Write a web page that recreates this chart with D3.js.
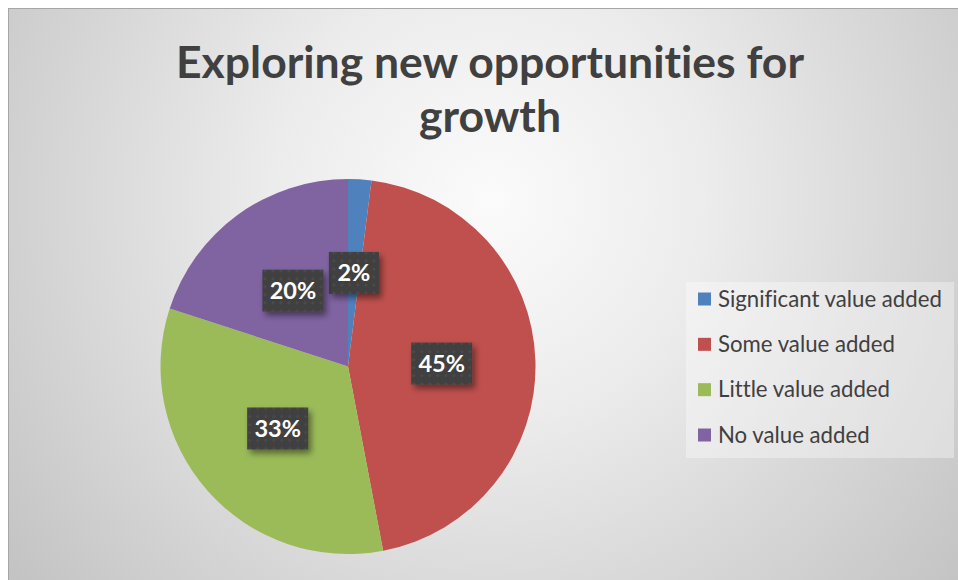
<!DOCTYPE html>
<html>
<head>
<meta charset="utf-8">
<script src="https://cdn.jsdelivr.net/npm/d3@7"></script>
<style>
  html, body { margin: 0; padding: 0; background: #ffffff; }
  svg { display: block; }
  text { font-variant-ligatures: none; font-feature-settings: "liga" 0, "clig" 0; }
</style>
</head>
<body>
<svg id="chart" width="958" height="580"></svg>
<script>
// Survey answers: share of respondents per category
const categories = ["Significant value added", "Some value added", "Little value added", "No value added"];
const values = [2, 45, 33, 20];
const colors = ["#4f81bd", "#c0504d", "#9bbb59", "#8064a2"];
const titleLines = ["Exploring new opportunities for", "growth"];

const W = 958, H = 580;
const svg = d3.select("#chart");
const defs = svg.append("defs");

// Radial background fill of the chart area
const bg = defs.append("radialGradient").attr("id", "bgGrad")
  .attr("gradientUnits", "userSpaceOnUse")
  .attr("cx", 490).attr("cy", 200).attr("r", 620);
bg.append("stop").attr("offset", "0%").attr("stop-color", "#fbfbfb");
bg.append("stop").attr("offset", "35%").attr("stop-color", "#ececec");
bg.append("stop").attr("offset", "100%").attr("stop-color", "#c2c2c2");

// Dotted texture for the value labels
const pat = defs.append("pattern").attr("id", "dots")
  .attr("patternUnits", "userSpaceOnUse").attr("width", 8).attr("height", 8);
pat.append("rect").attr("width", 8).attr("height", 8).attr("fill", "#3f3f3f");
pat.append("circle").attr("cx", 4).attr("cy", 4).attr("r", 1.6).attr("fill", "#4b4b4b");

const shadow = defs.append("filter").attr("id", "shadow")
  .attr("x", "-30%").attr("y", "-30%").attr("width", "170%").attr("height", "180%");
shadow.append("feDropShadow").attr("dx", 3).attr("dy", 4).attr("stdDeviation", 3)
  .attr("flood-color", "#000").attr("flood-opacity", 0.45);

// Chart area
svg.append("rect")
  .attr("x", 8.5).attr("y", 8.5).attr("width", W - 8).attr("height", H - 8)
  .attr("fill", "url(#bgGrad)").attr("stroke", "#a6a6a6").attr("stroke-width", 1);

// Title
const title = svg.append("text")
  .attr("text-anchor", "middle")
  .attr("font-family", "Lato, 'Open Sans', sans-serif")
  .attr("font-weight", "bold").attr("font-size", 44.5)
  .attr("fill", "#404040");
titleLines.forEach((t, i) => {
  title.append("tspan").attr("x", 490).attr("y", 78 + i * 54).text(t);
});

// Pie
const cx = 348, cy = 366.5, R = 187.5;
const pie = d3.pie().sort(null).value(d => d)(values);
const arc = d3.arc().innerRadius(0).outerRadius(R);
const labelArc = d3.arc().innerRadius(0).outerRadius(R);

const g = svg.append("g").attr("transform", `translate(${cx},${cy})`);
g.selectAll("path.slice").data(pie).join("path")
  .attr("class", "slice")
  .attr("d", arc)
  .attr("fill", (d, i) => colors[i]);

// Value labels on dark boxes
const total = d3.sum(values);
const lbl = g.selectAll("g.lbl").data(pie).join("g")
  .attr("class", "lbl")
  .attr("transform", d => `translate(${labelArc.centroid(d)})`);
lbl.each(function (d) {
  const sel = d3.select(this);
  const txt = Math.round(d.data / total * 100) + "%";
  const w = txt.length === 2 ? 50 : 61, h = 42;
  sel.append("rect")
    .attr("x", -w / 2).attr("y", -h / 2).attr("width", w).attr("height", h)
    .attr("fill", "url(#dots)").attr("filter", "url(#shadow)");
  sel.append("text")
    .attr("text-anchor", "middle").attr("dy", "0.36em")
    .attr("font-family", "Lato, 'Open Sans', sans-serif")
    .attr("font-weight", "bold").attr("font-size", 23.5)
    .attr("fill", "#ffffff").text(txt);
});

// Legend
const lg = svg.append("g");
lg.append("rect")
  .attr("x", 686).attr("y", 282).attr("width", 268).attr("height", 176)
  .attr("fill", "#ffffff").attr("fill-opacity", 0.35);
const rows = d3.scalePoint().domain(categories).range([299, 435]);
const item = lg.selectAll("g.item").data(categories).join("g")
  .attr("class", "item")
  .attr("transform", d => `translate(698,${rows(d)})`);
item.append("rect")
  .attr("x", 0).attr("y", -6.5).attr("width", 13).attr("height", 13)
  .attr("fill", (d, i) => colors[i]);
item.append("text")
  .attr("x", 20).attr("dy", "0.35em")
  .attr("font-family", "Lato, 'Open Sans', sans-serif")
  .attr("font-size", 22.2).attr("fill", "#404040")
  .text(d => d);
</script>
</body>
</html>
